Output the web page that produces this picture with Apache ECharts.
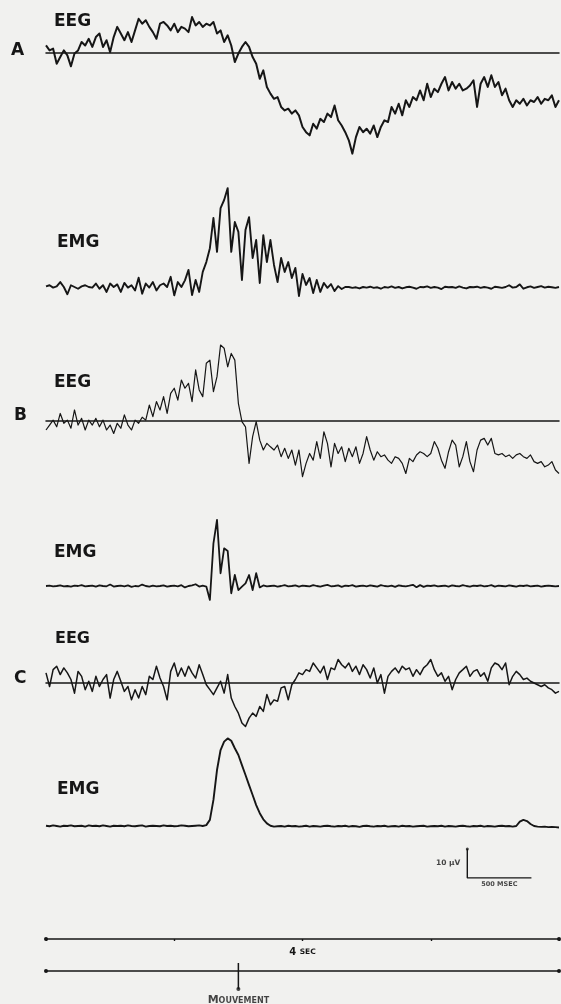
<!DOCTYPE html>
<html><head><meta charset="utf-8">
<script src="https://cdn.jsdelivr.net/npm/echarts@6.0.0/dist/echarts.min.js"></script>
<style>html,body{margin:0;padding:0;background:#f1f1ef;}#chart{width:561px;height:1004px;}</style>
</head><body><div id="chart"></div>
<script>
// ---- data (time 0..4 s, amplitudes in µV, sampled every 4/144 s) ----
const DURATION_S = 4;
const SAMPLE_COUNT = 145;
const MOVEMENT_T = 1.5;
const SCALE_UV = 10;
const SCALE_S = 0.5;
const MOVEMENT_LABEL = 'MOUVEMENT';

const A_EEG = [2.6,0.9,1.5,-3.7,-1.4,0.9,-0.8,-4.6,-0.2,0.9,
3.8,2.6,4.9,2.1,5.5,6.7,2.1,4.4,0.3,5.5,
9.0,6.7,4.4,7.2,3.8,7.8,11.8,10.1,11.3,9.0,
7.2,4.9,10.1,10.7,9.5,7.8,10.1,7.2,9.0,8.4,
7.2,12.4,9.5,10.7,9.0,10.1,9.5,10.7,6.7,7.8,
3.8,6.1,2.6,-3.1,-0.2,2.1,3.8,2.1,-1.4,-3.7,
-8.9,-6.0,-11.7,-14.0,-15.8,-15.2,-18.6,-19.8,-19.2,-20.9,
-19.8,-21.5,-25.5,-27.3,-28.4,-24.4,-26.1,-22.7,-23.8,-20.9,
-22.1,-18.1,-23.2,-25.0,-27.3,-30.1,-34.7,-29.0,-25.5,-27.3,
-26.1,-27.8,-25.0,-29.0,-25.5,-23.2,-23.8,-18.6,-20.9,-17.5,
-21.5,-16.3,-18.6,-15.2,-16.3,-12.9,-16.3,-10.6,-15.2,-12.3,
-13.5,-10.6,-8.3,-12.9,-10.0,-12.3,-10.6,-12.9,-12.3,-11.2,
-9.4,-18.6,-10.6,-8.3,-11.7,-7.7,-11.7,-10.0,-14.6,-12.3,
-16.3,-18.6,-16.3,-17.5,-15.8,-18.1,-16.3,-16.9,-15.2,-17.5,
-15.8,-16.3,-14.6,-18.6,-16.3];

const A_EMG = [0.2,0.6,-0.2,0.2,1.7,0,-2.5,0.6,0,-0.6,
0.2,0.6,0,-0.2,1.2,-0.6,0.6,-1.7,1.2,0,
0.9,-1.7,1.4,-0.2,0.6,-1.2,3.2,-2.3,1.2,-0.2,
1.7,-1.2,0.6,1.2,0,3.5,-2.9,1.7,0,2.3,
5.9,-2.8,2.4,-1.7,5.2,8.6,13.4,23.8,12.1,27.2,
30.0,34.1,12.1,22.4,19.0,2.4,19.7,24.1,10.0,16.2,
1.4,17.9,8.6,16.2,7.6,1.7,10.0,5.2,8.6,3.1,
6.6,-3.1,4.5,0.7,3.1,-2.1,2.4,-1.7,1.4,-0.3,
1.0,-1.4,0.3,-0.7,0,
0,-0.3,-0.1,-0.5,0,-0.2,0.1,-0.3,-0.1,-0.6,
0,-0.2,0.2,-0.3,0,-0.5,-0.1,0.1,-0.2,-0.6,
0,-0.1,0.2,-0.3,0,-0.2,-0.7,0.1,-0.1,0,
-0.3,0.2,-0.2,-0.5,0,-0.1,0.1,-0.3,0,-0.2,
-0.6,0.1,-0.1,-0.3,0,0.6,-0.2,0,0.9,-0.6,
-0.1,0.2,-0.3,0,0.3,-0.2,0.1,-0.1,-0.3,0];

const B_EEG = [-3.1,-1.4,0.3,-2.0,2.6,-0.8,0.3,-2.5,3.8,-1.4,
0.9,-3.1,0.3,-1.4,0.9,-2.0,0.3,-3.1,-1.4,-4.3,
-0.8,-2.5,2.1,-1.4,-3.1,0.3,-0.8,1.3,0.3,5.5,
1.5,6.7,3.8,8.4,2.6,9.5,11.3,7.2,14.1,11.3,
13.0,6.7,17.6,10.7,8.4,19.9,21.0,10.1,15.3,26.2,
25.1,18.7,23.3,21.0,6.1,-0.2,-2.0,-14.6,-5.4,-0.2,
-6.6,-10.0,-7.7,-8.9,-10.0,-8.3,-12.3,-9.4,-12.9,-10.0,
-15.2,-10.0,-19.2,-14.6,-11.2,-13.5,-7.1,-12.9,-3.7,-7.7,
-15.8,-7.7,-11.2,-8.9,-14.0,-9.4,-12.3,-8.9,-14.6,-11.2,
-5.4,-10.0,-13.5,-10.6,-12.3,-11.7,-13.5,-14.6,-12.3,-12.9,
-14.6,-18.1,-12.9,-14.0,-11.7,-10.6,-11.2,-12.3,-11.2,-7.1,
-9.4,-13.5,-16.3,-10.6,-6.6,-8.3,-15.8,-12.3,-7.1,-14.0,
-17.5,-10.0,-6.6,-6.0,-8.3,-6.0,-11.2,-11.7,-11.2,-12.3,
-11.7,-12.9,-11.7,-11.2,-12.3,-12.9,-11.7,-14.0,-14.6,-14.0,
-15.8,-15.2,-14.0,-16.9,-18.1];

const B_EMG = [0,0.1,-0.1,0,0.2,-0.1,0,-0.2,0.1,0,
0.3,-0.1,0,0.1,-0.2,0.2,0,-0.1,0.5,-0.2,
0,0.1,-0.1,0.2,-0.3,0,-0.1,0.5,0,-0.2,
0.1,-0.1,0,0.2,-0.2,0,0.1,-0.1,0.3,-0.5,
0,0.2,0.6,-0.2,0.1,
-0.2,-4.8,14.7,22.8,4.4,13.0,12.1,-2.5,3.8,-1.4,-0.2,0.9,3.8,-1.4,4.4,-0.5,
0.2,-0.1,0,0.1,-0.2,0,0.3,-0.1,0,0.2,
-0.2,0.1,0,-0.1,0.3,0,-0.2,0.1,0.4,-0.1,
0,0.2,-0.3,0.1,0,0.3,-0.2,0,0.1,-0.1,
0.2,0,-0.2,0.3,0,-0.1,0.1,-0.3,0.2,0,
-0.1,0.1,0.4,-0.4,0.3,-0.3,0.1,0,0.2,-0.1,
0,0.1,-0.2,0.2,0,-0.1,0.3,0,-0.2,0.1,
0,0.2,-0.1,0,0.3,-0.2,0.1,0,-0.1,0.2,
0,-0.2,0.1,0,0.2,-0.1,0,0.1,-0.2,0,
0.1,0,-0.1,0];

const C_EEG = [3.5,-1.2,4.6,5.8,2.9,5.2,3.5,1.2,-3.5,4.0,
2.3,-2.3,0.6,-2.9,2.3,-1.2,1.2,2.9,-5.2,1.2,
4.0,0.6,-2.9,-1.2,-5.8,-2.3,-5.2,-1.2,-4.0,2.3,
1.2,5.8,1.7,-1.2,-5.8,4.0,6.9,2.3,5.2,2.3,
5.8,3.5,1.7,6.3,2.9,-0.6,-2.3,-4.0,-1.7,0.6,
-3.5,2.9,-5.2,-8.1,-10.4,-13.8,-15.0,-12.1,-10.4,-11.5,
-8.1,-9.8,-4.0,-7.5,-5.8,-6.3,-1.7,-1.2,-5.8,-0.6,
1.2,3.5,2.9,4.6,4.0,6.9,5.2,3.5,5.8,1.2,
5.2,4.6,8.1,6.3,5.2,6.9,4.0,5.8,2.9,6.3,
4.6,1.7,5.2,0,2.9,-3.5,2.3,4.0,5.2,3.5,
5.8,4.6,5.2,2.3,4.6,2.9,5.2,6.3,8.1,4.6,
2.3,3.5,0.6,2.3,-2.3,1.2,3.5,4.6,5.8,2.3,
4.0,4.6,2.3,3.5,0.6,5.2,6.9,6.3,4.6,6.9,
-0.6,2.3,4.0,2.9,1.2,1.7,0.6,0,-0.6,-1.2,
-0.6,-1.7,-2.3,-3.5,-2.9];

const C_EMG = [0.1,-0.1,0.2,0,-0.2,0.1,0,0.2,-0.1,0,
0.1,-0.2,0.2,0,0.1,-0.1,0.2,0,-0.2,0.1,
0,0.1,-0.1,0.2,0,-0.1,0.1,0.2,-0.2,0,
0.1,0,-0.1,0.2,0,0.1,-0.1,0,0.2,0.1,
-0.1,0,0.1,0.2,0,0.3,
2.1,9.0,19.3,26.2,29.1,30.2,29.4,26.8,24.5,21.0,17.6,14.1,10.7,7.2,4.4,2.3,0.9,0.1,-0.2,
-0.1,0,-0.2,0.1,-0.1,0,-0.2,-0.1,0.1,-0.2,
0,-0.1,-0.2,0,0.1,-0.1,-0.2,0,-0.1,0.1,
-0.2,0,-0.1,-0.3,0,0.1,-0.1,-0.2,0,-0.1,
0.1,-0.2,-0.1,0,-0.2,0.1,-0.1,0,-0.2,-0.1,
0,0.1,-0.2,-0.1,0,-0.1,0.1,-0.2,0,-0.1,
-0.2,0,0.1,-0.1,-0.2,0,-0.1,0.1,-0.2,0,
-0.1,-0.2,0,0.1,-0.1,0,-0.2,0,
1.5,2.1,1.7,0.7,0,-0.2,-0.3,-0.2,-0.4,-0.3,-0.4,-0.5];

// ---- layout & style ----
const INK = '#161616';
const BG = '#f1f1ef';
const PX_PER_UV = 2.9;
const LEFT = 46, RIGHT = 2;
const DT = DURATION_S / (SAMPLE_COUNT - 1);
const FONT = '"DejaVu Sans", "Liberation Sans", sans-serif';

const TRACES = [
  {data: A_EEG, top: 5,   base: 53,  bottom: 175, eeg: true,  width: 2.0},
  {data: A_EMG, top: 175, base: 287, bottom: 320, eeg: false, width: 1.9},
  {data: B_EEG, top: 325, base: 421, bottom: 490, eeg: true,  width: 1.2},
  {data: B_EMG, top: 490, base: 586, bottom: 610, eeg: false, width: 1.8},
  {data: C_EEG, top: 610, base: 683, bottom: 740, eeg: true,  width: 1.5},
  {data: C_EMG, top: 730, base: 826, bottom: 900, eeg: false, width: 1.9}
];

function toXY(arr) { return arr.map((v, i) => [+(i * DT).toFixed(5), v]); }

const grids = [], xAxes = [], yAxes = [], series = [];
TRACES.forEach((tr, i) => {
  grids.push({left: LEFT, right: RIGHT, top: tr.top, height: tr.bottom - tr.top});
  xAxes.push({
    gridIndex: i, type: 'value', min: 0, max: DURATION_S, show: tr.eeg,
    axisLine: {show: true, onZero: true, lineStyle: {color: INK, width: 1.5}},
    axisTick: {show: false}, axisLabel: {show: false}, splitLine: {show: false}
  });
  yAxes.push({
    gridIndex: i, type: 'value', show: false,
    min: -(tr.bottom - tr.base) / PX_PER_UV, max: (tr.base - tr.top) / PX_PER_UV,
    splitLine: {show: false}
  });
  series.push({
    type: 'line', xAxisIndex: i, yAxisIndex: i, data: toXY(tr.data),
    showSymbol: false, symbol: 'none', silent: true, animation: false,
    lineStyle: {color: INK, width: tr.width, join: 'round'}
  });
});

// scale bar in the C EMG grid (index 5): 10 µV / 500 ms
const SB_T0 = 3.285, SB_V0 = -17.9;
series.push({
  type: 'line', xAxisIndex: 5, yAxisIndex: 5, silent: true, animation: false,
  showSymbol: false, symbol: 'none',
  data: [[SB_T0, SB_V0 + SCALE_UV], [SB_T0, SB_V0], [SB_T0 + SCALE_S, SB_V0]],
  lineStyle: {color: INK, width: 1.4}
});
series.push({
  type: 'scatter', xAxisIndex: 5, yAxisIndex: 5, silent: true, animation: false,
  symbolSize: 0,
  data: [
    {value: [SB_T0, SB_V0 + SCALE_UV / 2], label: {show: true, formatter: '10 \u00b5V', position: 'left', distance: 7,
      color: INK, fontFamily: FONT, fontWeight: 'bold', fontSize: 7.5}},
    {value: [SB_T0 + SCALE_S / 2, SB_V0], label: {show: true, formatter: '500 MSEC', position: 'bottom', distance: 3,
      color: INK, fontFamily: FONT, fontWeight: 'bold', fontSize: 6.5}}
  ]
});
series.push({
  type: 'scatter', xAxisIndex: 5, yAxisIndex: 5, silent: true, animation: false,
  symbolSize: 3, itemStyle: {color: INK},
  data: [[SB_T0, SB_V0 + SCALE_UV]]
});

// time bar (4 s) and movement line
const timeAxisBase = {
  type: 'value', min: 0, max: DURATION_S, interval: 1, position: 'bottom',
  axisLine: {show: true, onZero: false, symbol: ['circle', 'circle'], symbolSize: [4, 4],
    lineStyle: {color: INK, width: 1.6}},
  axisLabel: {show: false}, splitLine: {show: false}
};
grids.push({left: LEFT, right: RIGHT, top: 929, height: 10});
xAxes.push(Object.assign({}, timeAxisBase, {
  gridIndex: 6,
  axisTick: {show: true, length: 2, lineStyle: {color: INK, width: 1.4}},
  name: '{n|4} {s|SEC}', nameLocation: 'middle', nameGap: 7,
  nameTextStyle: {rich: {
    n: {fontFamily: FONT, fontWeight: 'bold', fontSize: 10, color: INK},
    s: {fontFamily: FONT, fontWeight: 'bold', fontSize: 7.5, color: INK}
  }}
}));
yAxes.push({gridIndex: 6, type: 'value', show: false, min: 0, max: 1});

grids.push({left: LEFT, right: RIGHT, top: 961, height: 10});
xAxes.push(Object.assign({}, timeAxisBase, {gridIndex: 7, axisTick: {show: false}}));
yAxes.push({gridIndex: 7, type: 'value', show: false, min: 0, max: 1});

grids.push({left: LEFT, right: RIGHT, top: 963, height: 26});
xAxes.push({gridIndex: 8, type: 'value', min: 0, max: DURATION_S, show: false});
yAxes.push({gridIndex: 8, type: 'value', show: false, min: 0, max: 1});
series.push({
  type: 'line', xAxisIndex: 8, yAxisIndex: 8, silent: true, animation: false,
  showSymbol: false, symbol: 'none',
  data: [[MOVEMENT_T, 1], [MOVEMENT_T, 0]],
  lineStyle: {color: INK, width: 1.5}
});
series.push({
  type: 'scatter', xAxisIndex: 8, yAxisIndex: 8, silent: true, animation: false,
  symbolSize: 4, itemStyle: {color: INK},
  data: [[MOVEMENT_T, 0]],
  label: {show: true, position: 'bottom', distance: 4,
    formatter: '{m|' + MOVEMENT_LABEL.charAt(0) + '}{o|' + MOVEMENT_LABEL.slice(1) + '}',
    rich: {
      m: {fontFamily: FONT, fontWeight: 'bold', fontSize: 11, color: INK},
      o: {fontFamily: FONT, fontWeight: 'bold', fontSize: 8, color: INK}
    }}
});

function lbl(text, left, top, size) {
  return {type: 'text', left: left, top: top, silent: true,
    style: {text: text, fill: INK, font: 'bold ' + size + 'px ' + FONT}};
}
const graphic = [
  lbl('EEG', 54, 13, 17), lbl('A', 11, 42, 17),
  lbl('EMG', 57, 234, 17),
  lbl('EEG', 54, 374, 17), lbl('B', 14, 407, 17),
  lbl('EMG', 54, 544, 17),
  lbl('EEG', 55, 631, 16), lbl('C', 14, 670, 17),
  lbl('EMG', 57, 781, 17)
];

const chart = echarts.init(document.getElementById('chart'), null, {renderer: 'canvas'});
chart.setOption({
  backgroundColor: BG,
  animation: false,
  grid: grids, xAxis: xAxes, yAxis: yAxes, series: series,
  graphic: graphic
});
</script></body></html>
